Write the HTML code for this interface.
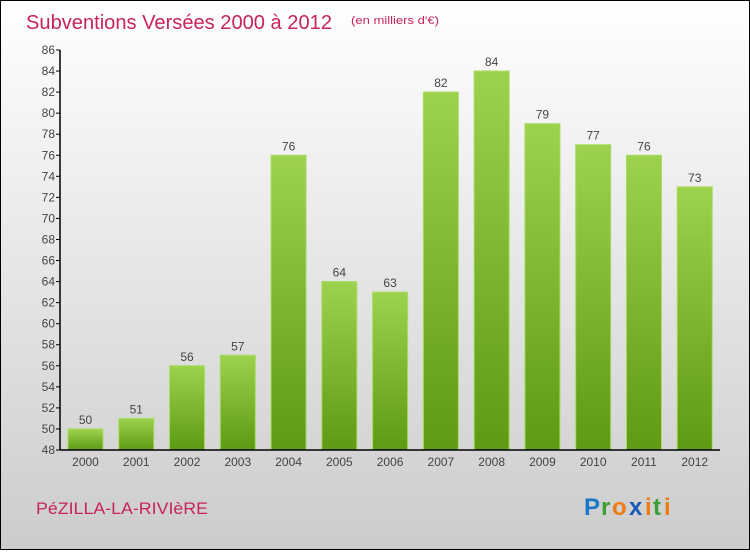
<!DOCTYPE html>
<html><head><meta charset="utf-8"><style>
body{margin:0;width:750px;height:550px;overflow:hidden;font-family:"Liberation Sans",sans-serif}
</style></head><body>
<svg id="c" width="750" height="550" xmlns="http://www.w3.org/2000/svg">
<defs>
<linearGradient id="bg" x1="0" y1="0" x2="0" y2="1"><stop offset="0" stop-color="#ffffff"/><stop offset="1" stop-color="#cccccc"/></linearGradient>
<linearGradient id="bar" x1="0" y1="0" x2="0" y2="1"><stop offset="0" stop-color="#9dd24e"/><stop offset="1" stop-color="#5e9a14"/></linearGradient>
</defs>
<rect x="0.5" y="0.5" width="749" height="549" fill="url(#bg)" stroke="#000"/>
<text x="26" y="29" font-size="20" fill="#c8245a" textLength="306" lengthAdjust="spacingAndGlyphs">Subventions Versées 2000 à 2012</text>
<text x="351" y="24" font-size="11" fill="#c8245a" textLength="88" lengthAdjust="spacingAndGlyphs">(en milliers d'€)</text>
<text x="36" y="514" font-size="17" fill="#c8245a" textLength="172" lengthAdjust="spacingAndGlyphs">PéZILLA-LA-RIVIèRE</text>
<g font-size="24" font-weight="bold">
<text x="584" y="515" fill="#1a78c8">P</text><text x="601" y="515" fill="#3aa035">r</text><text x="612" y="515" fill="#f07a10">o</text><text x="629" y="515" fill="#1a58b8">x</text><text x="645" y="515" fill="#f07a10">i</text><text x="653" y="515" fill="#3aa035">t</text><text x="664" y="515" fill="#f07a10">i</text>
</g>
<g id="g"></g>
</svg>
<script>
const categories=["2000","2001","2002","2003","2004","2005","2006","2007","2008","2009","2010","2011","2012"];
const values=[50,51,56,57,76,64,63,82,84,79,77,76,73];
const yTicks=[48,50,52,54,56,58,60,62,64,66,68,70,72,74,76,78,80,82,84,86];
const X0=60,X1=720,Y0=450,YMIN=48,YMAX=86;
const y=v=>Y0-(v-YMIN)*(400/(YMAX-YMIN));
const step=(X1-X0)/categories.length;
const x=i=>X0+i*step;
const g=document.getElementById('g');
const ns='http://www.w3.org/2000/svg';
function mk(t,a,txt){const e=document.createElementNS(ns,t);for(const k in a)e.setAttribute(k,a[k]);if(txt!=null)e.textContent=txt;g.appendChild(e);return e;}
values.forEach((v,i)=>{
 const bx=x(i)+8,bw=35;
 const r=mk('rect',{x:bx,y:y(v),width:bw,height:Y0-y(v),fill:'url(#bar)',stroke:'#a8dc60','stroke-width':1});
 
 
 const t=mk('text',{x:bx+bw/2,y:y(v)-5,'text-anchor':'middle','font-size':12,fill:'#444'},String(v));
 
 
 const c=mk('text',{x:bx+bw/2,y:Y0+16,'text-anchor':'middle','font-size':12,fill:'#444'},categories[i]);
 
 
});
yTicks.forEach(v=>{
 const l=mk('line',{x1:56,x2:60,y1:y(v),y2:y(v),stroke:'#000'});
 
 
 const t=mk('text',{x:55,y:y(v)+4,'text-anchor':'end','font-size':12,fill:'#444'},String(v));
 
 
});
const ya=mk('line',{x1:60,x2:60,y1:y(YMAX),y2:Y0,stroke:'#000','stroke-width':1.5});


const xa=mk('line',{x1:60,x2:X1,y1:Y0,y2:Y0,stroke:'#000','stroke-width':1.5});


</script>
</body></html>
